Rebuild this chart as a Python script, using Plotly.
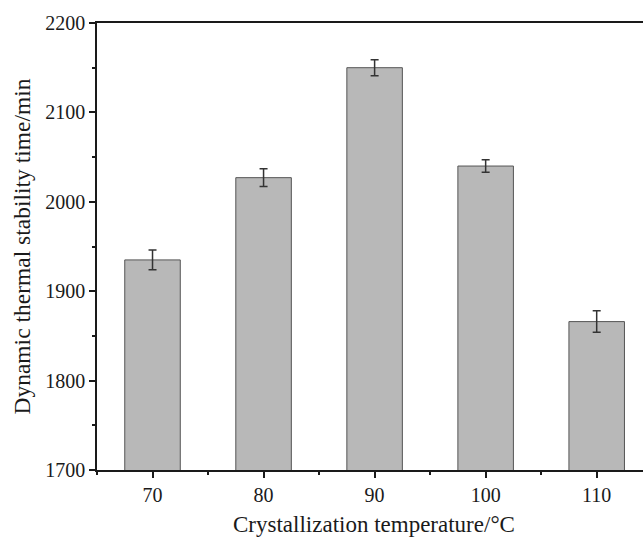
import plotly.graph_objects as go

# Crystallization temperature (°C) and measured dynamic thermal stability time (min)
temperatures = [70, 80, 90, 100, 110]
stability_time = [1935, 2027, 2150, 2040, 1866]
stability_err = [11, 10, 9, 7, 12]

x_ticks = [70, 80, 90, 100, 110]
y_ticks = [1700, 1800, 1900, 2000, 2100, 2200]

FONT = "Liberation Serif, Times New Roman, serif"
INK = "#1a1a1a"

fig = go.Figure()
fig.add_trace(go.Bar(
    x=temperatures,
    y=stability_time,
    width=5,
    marker=dict(color="#b8b8b8", line=dict(color="#555555", width=1)),
    error_y=dict(type="data", array=stability_err, visible=True,
                 color="#333333", thickness=1.5, width=4),
))

fig.update_layout(
    width=643, height=539,
    margin=dict(l=97, r=0, t=23, b=69),
    paper_bgcolor="white", plot_bgcolor="white",
    showlegend=False,
    font=dict(family=FONT, color=INK),
    xaxis=dict(
        range=[65, 114.17],
        tickvals=x_ticks, ticktext=[str(v) for v in x_ticks],
        ticks="outside", ticklen=6, tickwidth=1.5, tickcolor=INK,
        minor=dict(ticks="outside", ticklen=3, tickwidth=1.5, tickcolor=INK,
                   tick0=65, dtick=5),
        showline=True, linecolor=INK, linewidth=1.5, mirror=True,
        showgrid=False, zeroline=False,
        tickfont=dict(size=20, family=FONT, color=INK),
    ),
    yaxis=dict(
        range=[1700, 2200],
        tickvals=y_ticks, ticktext=[str(v) for v in y_ticks],
        ticks="outside", ticklen=6, tickwidth=1.5, tickcolor=INK,
        minor=dict(ticks="outside", ticklen=3, tickwidth=1.5, tickcolor=INK,
                   tick0=1700, dtick=50),
        showline=True, linecolor=INK, linewidth=1.5,
        showgrid=False, zeroline=False,
        tickfont=dict(size=20, family=FONT, color=INK),
        title=dict(text="Dynamic thermal stability time/min",
                   font=dict(size=23.5, family=FONT, color=INK), standoff=8),
    ),
    annotations=[dict(
        text="Crystallization temperature/°C",
        xref="paper", yref="paper", x=0.508, y=0,
        xanchor="center", yanchor="top", yshift=-40, showarrow=False,
        font=dict(size=23, family=FONT, color=INK),
    )],
)

fig.write_html("out.html")
